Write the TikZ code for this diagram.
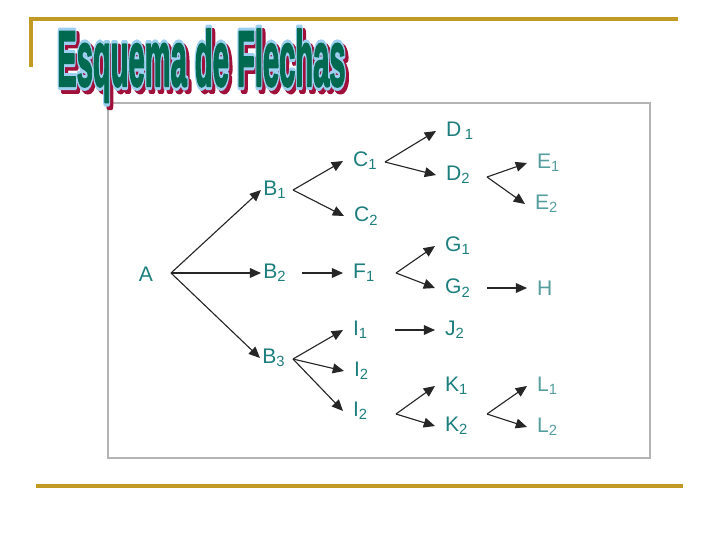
\documentclass[tikz,border=0pt]{standalone}
\usepackage{fontspec}
\setmainfont{Liberation Sans}
\usepackage{tikz}
\usepackage{xcolor}
\usetikzlibrary{arrows.meta}

\definecolor{gold}{HTML}{C09A22}
\definecolor{framegray}{HTML}{B4B4B4}
\definecolor{ink}{HTML}{1E7E7E}
\definecolor{titlegreen}{HTML}{006A50}
\definecolor{titleblue}{HTML}{9CCFF0}
\definecolor{titlered}{HTML}{A0103A}

% stroked text (render mode 2) for the outlined title
\newcommand{\strokedtext}[3]{{\color{#1}\special{pdf:code 2 Tr #2 w 1 j}#3\special{pdf:code 0 Tr}}}
\newcommand{\titlestring}{Esquema de Flechas}

\begin{document}
\begin{tikzpicture}[x=0.025cm, y=-0.025cm, >={Triangle[length=8pt,width=7pt]},
  lbl/.style={anchor=west, inner xsep=7pt, inner ysep=0pt, text=ink, font=\fontsize{15}{16}\selectfont},
  pale/.style={text=ink!75},
  arr/.style={->, line width=0.8pt, black!85}]
\useasboundingbox (0,0) rectangle (720,540);

% slide lines and frame
\draw[gold, line width=2.2pt] (31,67) -- (31,19) -- (678,19);
\draw[gold, line width=2.2pt] (36,486) -- (683,486);
\draw[framegray, line width=1.5pt] (108,103) rectangle (650,458);

% title
\node[anchor=base west, inner sep=0pt] (title) at (57,86) {\scalebox{0.37}[1]{\fontsize{56}{60}\selectfont\bfseries
  \rlap{\hspace{6pt}\raisebox{-2.5pt}{\strokedtext{titlered}{6}{\titlestring}}}%
  \rlap{\strokedtext{titleblue}{6}{\titlestring}}%
  \strokedtext{titlegreen}{1.6}{\titlestring}}};

% root
\node[text=ink, inner sep=0pt, font=\fontsize{15}{16}\selectfont] (A) at (146,274) {A};
\coordinate (Afork) at (171,273);

% first level
\node[lbl, inner xsep=1.5pt] (B1) at (261,190) {B\textsubscript{1}};
\node[lbl, inner xsep=1.5pt] (B2) at (261,273) {B\textsubscript{2}};
\node[lbl, inner xsep=1.5pt] (B3) at (260,358) {B\textsubscript{3}};
\foreach \t in {B1,B2,B3}
  \draw[arr] (Afork) -- (\t.west);

% second level
\node[lbl] (C1) at (343,161) {C\textsubscript{1}};
\node[lbl] (C2) at (344,216) {C\textsubscript{2}};
\node[lbl] (F1) at (343,273) {F\textsubscript{1}};
\node[lbl] (I1) at (343,330) {I\textsubscript{1}};
\node[lbl] (I2) at (344,371) {I\textsubscript{2}};
\node[lbl] (I3) at (343,411) {I\textsubscript{2}};
\coordinate (B1fork) at (293,190);
\coordinate (B2fork) at (302,273);
\coordinate (B3fork) at (293,359);
\foreach \t in {C1,C2}
  \draw[arr] (B1fork) -- (\t.west);
\draw[arr] (B2fork) -- (F1.west);
\foreach \t in {I1,I2,I3}
  \draw[arr] (B3fork) -- (\t.west);

% third level
\node[lbl] (D1) at (436,131) {D\,\textsubscript{1}};
\node[lbl] (D2) at (436,175) {D\textsubscript{2}};
\node[lbl] (G1) at (435,246) {G\textsubscript{1}};
\node[lbl] (G2) at (435,288) {G\textsubscript{2}};
\node[lbl] (J2) at (435,330) {J\textsubscript{2}};
\node[lbl] (K1) at (435,386) {K\textsubscript{1}};
\node[lbl] (K2) at (435,426) {K\textsubscript{2}};
\coordinate (C1fork) at (385,162);
\coordinate (F1fork) at (396,273);
\coordinate (I1fork) at (395,330);
\coordinate (I3fork) at (396,414);
\foreach \t in {D1,D2}
  \draw[arr] (C1fork) -- (\t.west);
\foreach \t in {G1,G2}
  \draw[arr] (F1fork) -- (\t.west);
\draw[arr] (I1fork) -- (J2.west);
\foreach \t in {K1,K2}
  \draw[arr] (I3fork) -- (\t.west);

% fourth level
\node[lbl, pale] (E1) at (527,163) {E\textsubscript{1}};
\node[lbl, pale] (E2) at (525,204) {E\textsubscript{2}};
\node[lbl, pale] (H) at (527,288) {H};
\node[lbl, pale] (L1) at (527,386) {L\textsubscript{1}};
\node[lbl, pale] (L2) at (527,427) {L\textsubscript{2}};
\coordinate (D2fork) at (487,177);
\coordinate (G2fork) at (487,288);
\coordinate (K2fork) at (487,414);
\foreach \t in {E1,E2}
  \draw[arr] (D2fork) -- (\t.west);
\draw[arr] (G2fork) -- (H.west);
\foreach \t in {L1,L2}
  \draw[arr] (K2fork) -- (\t.west);
\end{tikzpicture}
\end{document}
